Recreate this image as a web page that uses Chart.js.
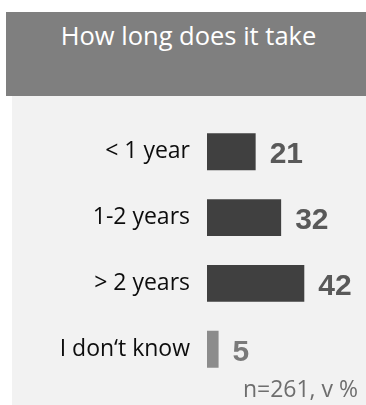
<!DOCTYPE html>
<html>
<head>
<meta charset="utf-8">
<script src="https://cdn.jsdelivr.net/npm/chart.js"></script>
<style>
    body {
        margin: 0;
        width: 366px;
        height: 405px;
        background: #fff;
        overflow: hidden;
        position: relative;
        font-family: "Open Sans", sans-serif;
    }
    .header {
        position: absolute;
        left: 6px;
        top: 12px;
        width: 360px;
        height: 84px;
        background: #7f7f7f;
        color: #fff;
        font-size: 25.5px;
        text-align: center;
        line-height: 30px;
        padding: 8px 0 0 5px;
        box-sizing: border-box;
    }
    .panel {
        position: absolute;
        left: 12px;
        top: 96px;
        width: 354px;
        height: 309px;
        background: #f2f2f2;
    }
    .panel canvas {
        position: absolute;
        left: 0;
        top: 0;
    }
    .note {
        position: absolute;
        right: 8px;
        top: 276px;
        font-size: 23px;
        color: #6e6e6e;
    }
</style>
</head>
<body>
<div class="header">How long does it take</div>
<div class="panel">
    <canvas id="chart" width="354" height="309"></canvas>
    <div class="note">n=261, v %</div>
</div>
<script>
    const categories = ['< 1 year', '1-2 years', '> 2 years', 'I don\u2018t know'];
    const shares = [21, 32, 42, 5];

    const barColors = ['#404040', '#404040', '#404040', '#8c8c8c'];
    const valueColors = ['#595959', '#595959', '#595959', '#7a7a7a'];

    // writes the percentage just right of each bar
    const valueLabels = {
        id: 'valueLabels',
        afterDatasetsDraw(chart) {
            const ctx = chart.ctx;
            const meta = chart.getDatasetMeta(0);
            ctx.save();
            ctx.font = 'bold 30px "Liberation Sans", Arial, sans-serif';
            ctx.textAlign = 'left';
            ctx.textBaseline = 'middle';
            meta.data.forEach((bar, i) => {
                ctx.fillStyle = valueColors[i];
                ctx.fillText(String(shares[i]), bar.x + 14, bar.y + 3);
            });
            ctx.restore();
        }
    };

    new Chart(document.getElementById('chart'), {
        type: 'bar',
        data: {
            labels: categories,
            datasets: [{
                data: shares,
                backgroundColor: barColors,
                borderWidth: 0,
                categoryPercentage: 1,
                barPercentage: 0.56
            }]
        },
        options: {
            indexAxis: 'y',
            responsive: false,
            animation: false,
            layout: { padding: { top: 21, bottom: 20, left: 0, right: 20 } },
            plugins: {
                legend: { display: false },
                tooltip: { enabled: false }
            },
            scales: {
                x: {
                    display: false,
                    min: 0,
                    max: 60
                },
                y: {
                    afterFit(scale) { scale.width = 195; },
                    grid: { display: false },
                    border: { display: false },
                    ticks: {
                        color: '#0d0d0d',
                        padding: 9,
                        font: { family: '"Open Sans", sans-serif', size: 23 }
                    }
                }
            }
        },
        plugins: [valueLabels]
    });
</script>
</body>
</html>
